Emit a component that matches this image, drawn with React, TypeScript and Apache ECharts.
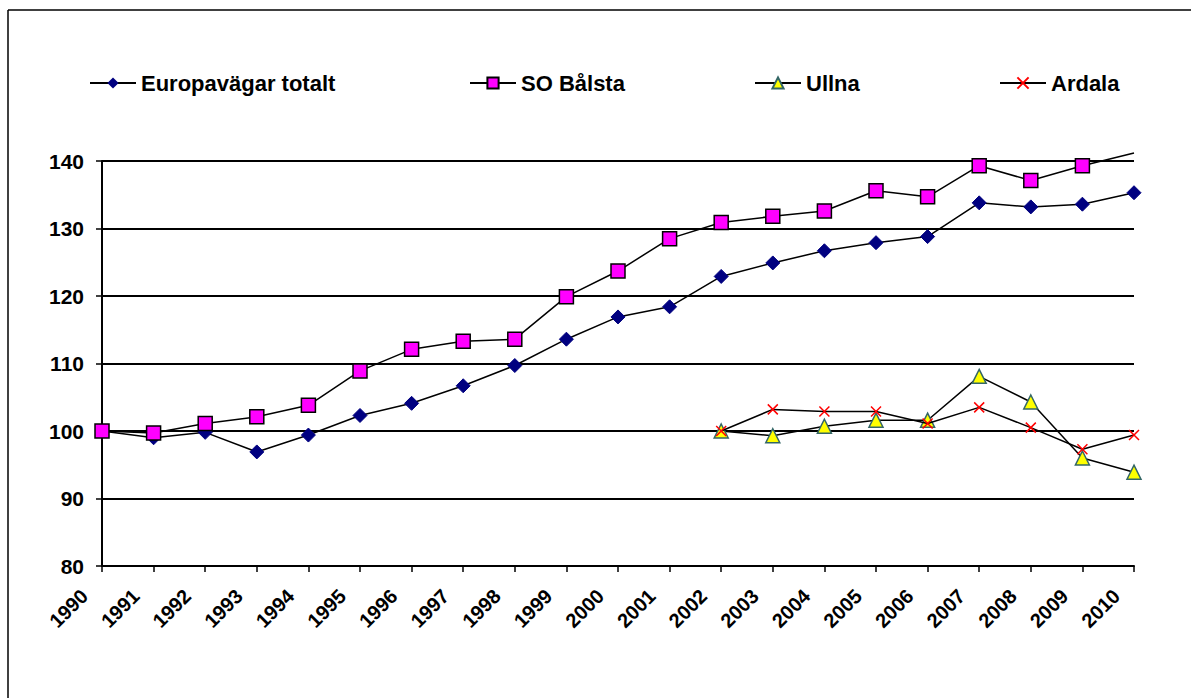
import React, { useEffect, useRef } from "react";
import * as echarts from "echarts";

const years = ["1990","1991","1992","1993","1994","1995","1996","1997","1998","1999","2000","2001","2002","2003","2004","2005","2006","2007","2008","2009","2010"];
const europavagar = [100, 99.0, 99.8, 96.9, 99.4, 102.3, 104.1, 106.7, 109.7, 113.6, 116.9, 118.4, 122.9, 124.9, 126.7, 127.9, 128.8, 133.8, 133.2, 133.6, 135.3];
const soBalsta = [100, 99.7, 101.1, 102.1, 103.8, 108.9, 112.1, 113.3, 113.6, 119.9, 123.7, 128.5, 130.9, 131.8, 132.6, 135.6, 134.7, 139.3, 137.1, 139.3, 141.2];
const ullna = [null, null, null, null, null, null, null, null, null, null, null, null, 100, 99.3, 100.7, 101.6, 101.6, 108.1, 104.3, 96.0, 93.9];
const ardala = [null, null, null, null, null, null, null, null, null, null, null, null, 100, 103.2, 102.9, 102.9, 101.1, 103.5, 100.5, 97.3, 99.4];
const yMin = 80;
const yMax = 140;
const yStep = 10;

const FONT = "'Liberation Sans', Arial, sans-serif";

export default function App() {
  const ref = useRef<HTMLDivElement>(null);
  useEffect(() => {
    if (!ref.current) return;
    const chart = echarts.init(ref.current, undefined, { renderer: "svg" });
    const legendText = { fontFamily: FONT, fontWeight: "bold" as const, fontSize: 22, color: "#000" };
    const mkLegend = (name: string, left: number) => ({
      data: [name],
      left,
      top: 67,
      itemWidth: 46,
      itemHeight: 14,
      itemGap: 10,
      textStyle: legendText,
    });
    chart.setOption({
      animation: false,
      backgroundColor: "#fff",
      graphic: [
        { type: "line", shape: { x1: 8, y1: 10, x2: 1191, y2: 10 }, style: { stroke: "#000", lineWidth: 1.5 } },
        { type: "line", shape: { x1: 8, y1: 10, x2: 8, y2: 698 }, style: { stroke: "#000", lineWidth: 1.5 } },
      ],
      legend: [
        mkLegend("Europavägar totalt", 84),
        mkLegend("SO Bålsta", 464),
        mkLegend("Ullna", 749),
        mkLegend("Ardala", 994),
      ],
      grid: { left: 102, right: 57, top: 161, bottom: 132, containLabel: false },
      xAxis: {
        type: "category",
        data: years,
        boundaryGap: false,
        axisLine: { lineStyle: { color: "#000", width: 2 } },
        axisTick: { show: true, length: 6, lineStyle: { color: "#000", width: 1.5 }, alignWithLabel: true },
        axisLabel: {
          rotate: 45,
          interval: 0,
          margin: 9,
          formatter: (v: string) => `{y|${v}}`,
          rich: {
            y: {
              color: "#000",
              fontFamily: FONT,
              fontWeight: "bold",
              fontSize: 20,
              padding: [0, 25, 0, 0],
            },
          },
        },
        splitLine: { show: false },
      },
      yAxis: {
        type: "value",
        min: yMin,
        max: yMax,
        interval: yStep,
        axisLine: { show: true, lineStyle: { color: "#000", width: 2 } },
        axisTick: { show: true, length: 6, inside: false, lineStyle: { color: "#000", width: 1.5 } },
        axisLabel: {
          margin: 18,
          color: "#000",
          fontFamily: FONT,
          fontWeight: "bold",
          fontSize: 21,
        },
        splitLine: { show: true, lineStyle: { color: "#000", width: 2 } },
      },
      series: [
        {
          name: "Europavägar totalt",
          type: "line",
          data: europavagar,
          symbol: "diamond",
          symbolSize: 14,
          lineStyle: { color: "#000", width: 1.5 },
          itemStyle: { color: "#000080", borderColor: "#000080" },
          z: 3,
        },
        {
          name: "SO Bålsta",
          type: "line",
          clip: false,
          data: soBalsta.map((v) => (v > yMax ? { value: v, symbol: "none" } : v)),
          symbol: "rect",
          symbolSize: 14,
          lineStyle: { color: "#000", width: 1.5 },
          itemStyle: { color: "#FF00FF", borderColor: "#000", borderWidth: 1.5 },
          z: 4,
        },
        {
          name: "Ullna",
          type: "line",
          data: ullna,
          symbol: "triangle",
          symbolSize: 14,
          connectNulls: false,
          lineStyle: { color: "#000", width: 1.5 },
          itemStyle: { color: "#FFFF00", borderColor: "#336666", borderWidth: 1.5 },
          z: 5,
        },
        {
          name: "Ardala",
          type: "line",
          data: ardala,
          symbol: "path://M0,0 L10,10 M10,0 L0,10",
          symbolSize: 10,
          lineStyle: { color: "#000", width: 1.5 },
          itemStyle: { color: "none", borderColor: "#FF0000", borderWidth: 1.5 },
          z: 6,
        },
      ],
    });
    return () => chart.dispose();
  }, []);
  return (
    <div
      ref={ref}
      style={{ position: "absolute", left: 0, top: 0, width: 1191, height: 698, background: "#fff" }}
    />
  );
}
